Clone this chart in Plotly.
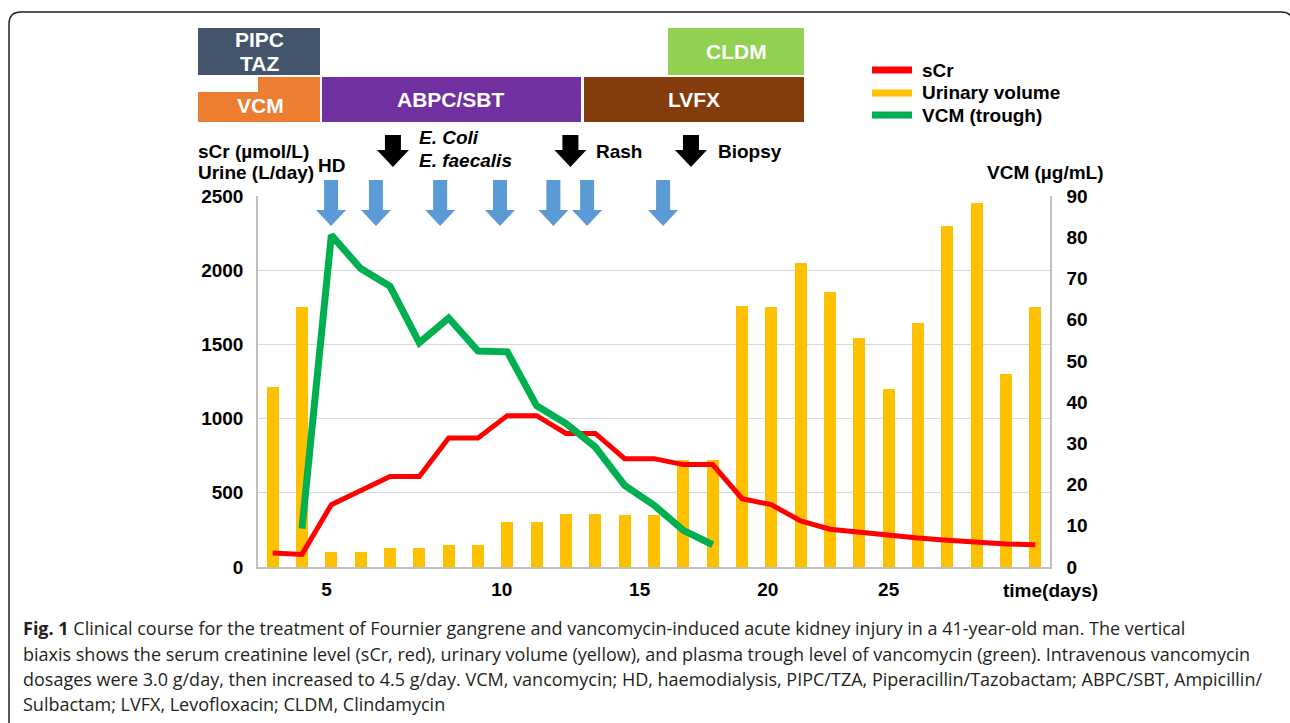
import plotly.graph_objects as go

# ---------------- data ----------------
bar_index = list(range(1, 28))
urine_volume = [1210, 1750, 100, 100, 125, 125, 150, 150, 300, 300, 355, 355, 350, 350,
                720, 720, 1760, 1750, 2050, 1850, 1545, 1200, 1645, 2300, 2455, 1300, 1750]
scr = [95, 85, 420, 515, 610, 610, 870, 870, 1020, 1020, 900, 900, 730, 730,
       690, 690, 460, 420, 310, 255, 235, 210, 195, 180, 165, 155, 150]
vcm_index = list(range(2, 17))
vcm_trough = [9.3, 80.5, 72.4, 68.1, 54.4, 60.4, 52.4, 52.2, 39.1, 34.8, 29.1,
              19.8, 15.0, 8.9, 5.4]
tick_pos = [2.84, 8.81, 13.51, 17.88, 22.0]
tick_text = ["5", "10", "15", "20", "25"]
left_ticks = [0, 500, 1000, 1500, 2000, 2500]
right_ticks = list(range(0, 91, 10))

hd_arrows = [2.99, 4.52, 6.71, 8.75, 10.57, 11.72, 14.31]
event_arrows = [5.10, 11.15, 15.26]

# ---------------- layout geometry (pixels) ----------------
W, H = 1290, 723
L, R, T, B = 258, 1050, 196, 567
PW, PH = R - L, B - T


def X(px):
    return (px - L) / PW


def Y(py):
    return (B - py) / PH


FONT = "Liberation Sans, Arial, sans-serif"
RED, YEL, GRN = "#FF0000", "#FFC000", "#00B050"
BLUE = "#5B9BD5"
FS = 19
TICKFONT = dict(family=FONT, size=FS, color="#000", weight="bold")

fig = go.Figure()
fig.add_trace(go.Bar(x=bar_index, y=urine_volume, marker_color=YEL, width=0.4,
                     marker_line_width=0, name="Urinary volume", showlegend=False))
fig.add_trace(go.Scatter(x=bar_index, y=scr, mode="lines", line=dict(color=RED, width=5),
                         name="sCr", showlegend=False))
fig.add_trace(go.Scatter(x=vcm_index, y=vcm_trough, mode="lines", yaxis="y2",
                         line=dict(color=GRN, width=7), name="VCM (trough)", showlegend=False))

shapes = []
annotations = []


def txt(text, px, py, size=FS, xanchor="center", color="#000", bold=True, italic=False, family=FONT):
    t = text
    if bold:
        t = "<b>" + t + "</b>"
    if italic:
        t = "<i>" + t + "</i>"
    annotations.append(dict(text=t, x=X(px), y=Y(py), xref="paper", yref="paper",
                            xanchor=xanchor, yanchor="middle", showarrow=False,
                            font=dict(family=family, size=size, color=color)))


def rect(x0, y0, x1, y1, color):
    shapes.append(dict(type="rect", xref="paper", yref="paper", x0=X(x0), x1=X(x1),
                       y0=Y(y1), y1=Y(y0), fillcolor=color, line=dict(width=0), layer="above"))


# drug boxes
rect(198, 28, 320, 75, "#44546A")
rect(668, 28, 804, 75, "#92D050")
rect(198, 92, 320, 122, "#ED7D31")
rect(258, 77, 320, 122, "#ED7D31")
rect(322, 77, 581, 122, "#7030A0")
rect(584, 77, 804, 122, "#843C0C")
BX = 21
txt("PIPC", 259, 39, BX, color="white")
txt("TAZ", 259, 63, BX, color="white")
txt("CLDM", 736, 52, BX, color="white")
txt("VCM", 260, 105, BX, color="white")
txt("ABPC/SBT", 451, 100, BX, color="white")
txt("LVFX", 694, 100, BX, color="white")


def arrow_path(sw, hw, total, head):
    return (f"M {-sw/2},{total} L {sw/2},{total} L {sw/2},{head} L {hw/2},{head} "
            f"L 0,0 L {-hw/2},{head} L {-sw/2},{head} Z")


for xa in hd_arrows:
    shapes.append(dict(type="path", xref="x", yref="paper", xsizemode="pixel", ysizemode="pixel",
                       xanchor=xa, yanchor=Y(226), path=arrow_path(14, 30, 46, 16),
                       fillcolor=BLUE, line=dict(width=0), layer="above"))
for xa in event_arrows:
    shapes.append(dict(type="path", xref="x", yref="paper", xsizemode="pixel", ysizemode="pixel",
                       xanchor=xa, yanchor=Y(167), path=arrow_path(16, 32, 32, 17),
                       fillcolor="#000000", line=dict(width=0), layer="above"))

txt("HD", 331, 165)
txt("E. Coli", 417, 138, xanchor="left", italic=True)
txt("E. faecalis", 417, 160, xanchor="left", italic=True)
txt("Rash", 594, 152, xanchor="left")
txt("Biopsy", 716, 152, xanchor="left")

# axis titles
txt("sCr (µmol/L)", 196, 152, xanchor="left")
txt("Urine (L/day)", 196, 172, xanchor="left")
txt("VCM (µg/mL)", 1106, 172, xanchor="right")
txt("time(days)", 1050, 590)

# legend
for py, col, lab in [(70, RED, "sCr"), (93, YEL, "Urinary volume"), (115, GRN, "VCM (trough)")]:
    shapes.append(dict(type="line", xref="paper", yref="paper", x0=X(872), x1=X(912),
                       y0=Y(py), y1=Y(py), line=dict(color=col, width=7)))
    txt(lab, 920, py, xanchor="left")

# frame
fl, ft, fr, fb, rad = 9, 12, 1293, 740, 12
rx, ry = rad / PW, rad / PH
path = (f"M {X(fl)},{Y(fb)} L {X(fl)},{Y(ft)-ry} Q {X(fl)},{Y(ft)} {X(fl)+rx},{Y(ft)} "
        f"L {X(fr)-rx},{Y(ft)} Q {X(fr)},{Y(ft)} {X(fr)},{Y(ft)-ry} L {X(fr)},{Y(fb)}")
shapes.append(dict(type="path", xref="paper", yref="paper", path=path,
                   line=dict(color="#231F20", width=1.5)))

# caption
cap = [
    "<b>Fig. 1</b> Clinical course for the treatment of Fournier gangrene and vancomycin-induced acute kidney injury in a 41-year-old man. The vertical",
    "biaxis shows the serum creatinine level (sCr, red), urinary volume (yellow), and plasma trough level of vancomycin (green). Intravenous vancomycin",
    "dosages were 3.0 g/day, then increased to 4.5 g/day. VCM, vancomycin; HD, haemodialysis, PIPC/TZA, Piperacillin/Tazobactam; ABPC/SBT, Ampicillin/",
    "Sulbactam; LVFX, Levofloxacin; CLDM, Clindamycin",
]
for line, py in zip(cap, [628, 654, 679, 704]):
    txt(line, 21, py, 18, xanchor="left", color="#231F20", bold=False, family="Open Sans, sans-serif")

fig.update_layout(
    width=W, height=H,
    margin=dict(l=L, r=W - R, t=T, b=H - B, pad=0),
    paper_bgcolor="white", plot_bgcolor="white",
    showlegend=False,
    bargap=0,
    font=dict(family=FONT, size=FS, color="#000"),
    xaxis=dict(range=[0.5, 27.5], tickmode="array", tickvals=tick_pos, ticktext=tick_text,
               showgrid=False, zeroline=False, showline=True, linecolor="#BFBFBF", linewidth=1.5,
               ticks="", tickfont=TICKFONT, ticklabelstandoff=4),
    yaxis=dict(range=[0, 2500], tickmode="array", tickvals=left_ticks,
               showgrid=True, gridcolor="#D9D9D9", gridwidth=1, zeroline=False,
               showline=True, linecolor="#BFBFBF", linewidth=1.5, ticks="",
               tickfont=TICKFONT, ticklabelstandoff=9),
    yaxis2=dict(range=[0, 90], tickmode="array", tickvals=right_ticks, overlaying="y", side="right",
                showgrid=False, zeroline=False, showline=True, linecolor="#BFBFBF", linewidth=1.5,
                ticks="", tickfont=TICKFONT, ticklabelstandoff=11),
    shapes=shapes,
    annotations=annotations,
)

fig.write_html("out.html", post_script="document.body.style.margin='0';",
               config={"displayModeBar": False})
